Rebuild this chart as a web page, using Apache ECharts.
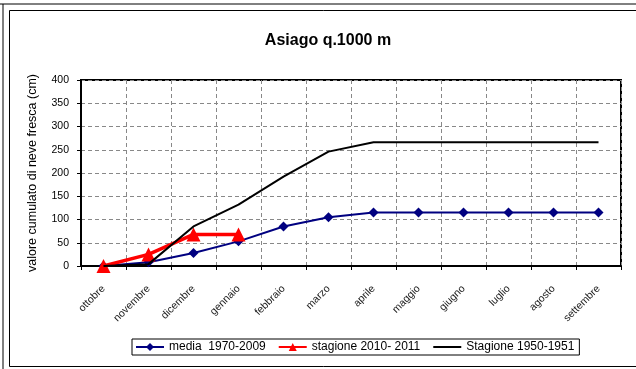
<!DOCTYPE html>
<html>
<head>
<meta charset="utf-8">
<script src="https://cdn.jsdelivr.net/npm/echarts@6/dist/echarts.min.js"></script>
<style>
html,body{margin:0;padding:0;background:#fff;}
#chart{width:636px;height:369px;}
</style>
</head>
<body>
<div id="chart"></div>
<script>
const months = ['ottobre','novembre','dicembre','gennaio','febbraio','marzo','aprile','maggio','giugno','luglio','agosto','settembre'];
const media = [0, 8, 28, 53, 85, 105, 115, 115, 115, 115, 115, 115];
const stagione2010 = [0, 25, 68, 68, null, null, null, null, null, null, null, null];
const stagione1950 = [0, 4, 85, 132, 192, 246, 266, 266, 266, 266, 266, 266];
const yTicks = [0, 50, 100, 150, 200, 250, 300, 350, 400];

const chart = echarts.init(document.getElementById('chart'));
const font = 'Liberation Sans, Arial, sans-serif';
chart.setOption({
  animation: false,
  backgroundColor: '#fff',
  title: {
    text: 'Asiago q.1000 m',
    left: 323, top: 28, textAlign: 'center',
    textStyle: {fontFamily: font, fontSize: 16, fontWeight: 'bold', color: '#000'}
  },
  graphic: [
    {type: 'line', shape: {x1: 0, y1: 4, x2: 636, y2: 4}, style: {stroke: '#000', lineWidth: 1}},
    {type: 'line', shape: {x1: 3, y1: 4, x2: 3, y2: 369}, style: {stroke: '#000', lineWidth: 1}},
    {type: 'rect', shape: {x: 9.5, y: 10.5, width: 640, height: 356}, style: {fill: 'none', stroke: '#000', lineWidth: 1}}
  ],
  grid: {left: 81, right: 15, top: 80, bottom: 103, show: true, borderColor: '#000', borderWidth: 2, containLabel: false},
  legend: {
    left: 132, top: 339,
    itemWidth: 28, itemHeight: 10, itemGap: 12,
    padding: [2, 5, 2, 3],
    borderColor: '#000', borderWidth: 1,
    textStyle: {fontFamily: font, fontSize: 12, color: '#000'},
    data: [
      {name: 'media  1970-2009'},
      {name: 'stagione 2010- 2011'},
      {name: 'Stagione 1950-1951', itemStyle: {opacity: 0}}
    ]
  },
  xAxis: {
    type: 'category',
    data: months,
    boundaryGap: true,
    axisLine: {lineStyle: {color: '#000', width: 2}},
    axisTick: {show: true, alignWithLabel: false, length: 4, lineStyle: {color: '#000'}},
    splitLine: {show: true, lineStyle: {color: '#888', type: [4, 3], width: 1}},
    axisLabel: {rotate: 45, interval: 0, margin: 21, fontFamily: font, fontSize: 10.5, color: '#222'}
  },
  yAxis: {
    type: 'value',
    min: 0, max: 400, interval: 50,
    name: 'valore cumulato di neve fresca (cm)',
    nameLocation: 'middle', nameRotate: 90, nameGap: 42,
    nameTextStyle: {fontFamily: font, fontSize: 12.5, color: '#000'},
    axisLine: {show: true, lineStyle: {color: '#000', width: 2}},
    axisTick: {show: true, length: 4, lineStyle: {color: '#000'}},
    splitLine: {show: true, lineStyle: {color: '#888', type: [4, 3], width: 1}},
    axisLabel: {fontFamily: font, fontSize: 10.5, color: '#000', margin: 12,
      formatter: v => yTicks.includes(v) ? String(v) : ''}
  },
  series: [
    {
      name: 'media  1970-2009', type: 'line', data: media,
      symbol: 'diamond', symbolSize: 10, showSymbol: true,
      itemStyle: {color: '#000080'}, lineStyle: {color: '#000080', width: 2}, z: 2
    },
    {
      name: 'stagione 2010- 2011', type: 'line', data: stagione2010,
      symbol: 'triangle', symbolSize: 14, connectNulls: false,
      itemStyle: {color: '#ff0000'}, lineStyle: {color: '#ff0000', width: 3.5}, z: 3
    },
    {
      name: 'Stagione 1950-1951', type: 'line', data: stagione1950,
      symbol: 'none', showSymbol: false,
      itemStyle: {color: '#000'}, lineStyle: {color: '#000', width: 2}, z: 4
    }
  ]
});
</script>
</body>
</html>
